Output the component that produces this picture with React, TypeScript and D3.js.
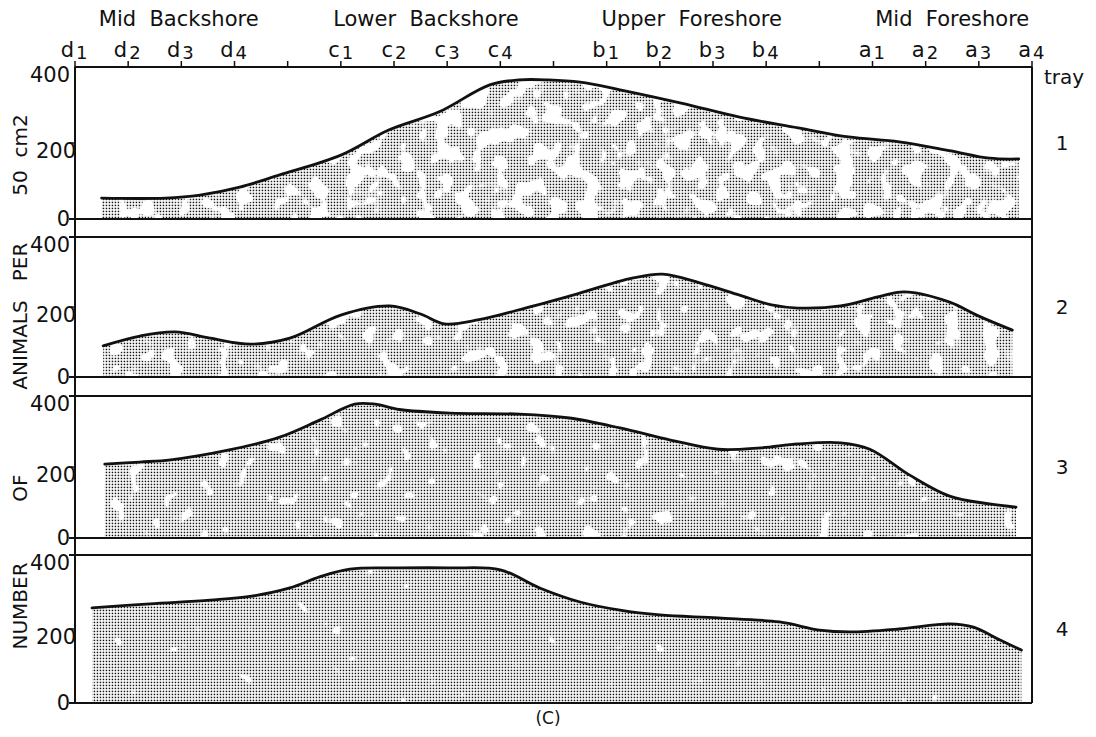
import * as d3 from "d3";
import React from "react";

// station positions along the transect (blank = unlabeled tick)
const stations = ["d1", "d2", "d3", "d4", "", "c1", "c2", "c3", "c4", "", "b1", "b2", "b3", "b4", "", "a1", "a2", "a3", "a4"];
const zones = [
  { name: "Mid Backshore", at: 1.95 },
  { name: "Lower Backshore", at: 6.6 },
  { name: "Upper Foreshore", at: 11.6 },
  { name: "Mid Foreshore", at: 16.5 },
];
const yTicks = [0, 200, 400];
const trayNames = ["1", "2", "3", "4"];

// [station position, animals per 50 cm2]
const tray1 = [
  [0.5, 55], [1.7, 55], [2.35, 63], [3.1, 84], [3.85, 116], [5, 168], [5.9, 234], [6.85, 282],
  [7.8, 353], [8.35, 366], [8.9, 366], [9.5, 360], [10.25, 340], [11.4, 305], [12.5, 268],
  [13.6, 240], [14.55, 216], [15.5, 203], [16.45, 180], [17.2, 160], [17.75, 158],
];
const tray2 = [
  [0.53, 89], [1.22, 117], [1.88, 129], [2.54, 111], [3.3, 94], [4.04, 111], [5, 177],
  [5.92, 203], [6.5, 180], [6.95, 152], [7.6, 164], [8.3, 190], [9.25, 229], [10.5, 283], [11.05, 294],
  [11.75, 269], [12.5, 234], [13.1, 206], [13.6, 197], [14.4, 203], [15.1, 229], [15.6, 243],
  [16.45, 214], [17, 174], [17.63, 134],
];
const tray3 = [
  [0.56, 208], [1.22, 214], [1.8, 220], [2.9, 248], [3.85, 284], [4.6, 332], [5.26, 377],
  [5.64, 377], [6.1, 362], [7.05, 352], [8.36, 349], [9.3, 338], [10.25, 310], [11.2, 276],
  [12.1, 250], [12.9, 254], [13.6, 265], [14.4, 268], [14.95, 250], [15.7, 177], [16.45, 118],
  [17.2, 96], [17.7, 87],
];
const tray4 = [
  [0.32, 257], [1.41, 268], [2.54, 278], [3.29, 288], [4.04, 311], [4.6, 341], [5.17, 362],
  [6.1, 365], [7.05, 365], [8, 360], [8.74, 311], [9.5, 273], [10.25, 251], [11, 238],
  [12.1, 230], [13.25, 219], [14, 197], [14.57, 192], [15.5, 200], [16.45, 214], [16.9, 205],
  [17.4, 170], [17.8, 143],
];
const trays = [tray1, tray2, tray3, tray4];

const W = 1096;
const H = 737;
const font = "DejaVu Sans, sans-serif";
const panelTop = [67, 237, 396, 555];
const panelBottom = [219, 377, 538, 703];
const holeCut = [0.46, 0.4, 0.33, 0.24]; // noise level below which the stipple has gaps

const x = d3.scaleLinear().domain([0, 18]).range([75, 1032]);

export default function App() {
  const left = x(0);
  const right = x(18);
  return (
    <svg width={W} height={H} style={{ position: "fixed", left: 0, top: 0, background: "#fff" }} fontFamily={font}>
      <defs>
        <pattern id="dots" width={3} height={3} patternUnits="userSpaceOnUse">
          <rect x={0.7} y={0.7} width={1.5} height={1.5} fill="#111" />
        </pattern>
        {holeCut.map((c, i) => {
          const k = 14;
          const off = -(c * k - 0.5);
          const row = `${k} 0 0 0 ${off}`;
          return (
            <filter id={`blot${i}`} key={i} x="0" y="0" width="1" height="1">
              <feTurbulence type="fractalNoise" baseFrequency="0.055" numOctaves="2" seed={i + 4} />
              <feColorMatrix type="matrix" values={`${row}  ${row}  ${row}  0 0 0 0 1`} />
            </filter>
          );
        })}
        {holeCut.map((c, i) => (
          <mask id={`m${i}`} key={i} maskUnits="userSpaceOnUse" x={0} y={0} width={W} height={H}>
            <rect x={left} y={panelTop[i]} width={right - left} height={panelBottom[i] - panelTop[i]} fill="#fff" filter={`url(#blot${i})`} />
          </mask>
        ))}
      </defs>

      {/* zone headers */}
      {zones.map((z) => (
        <text key={z.name} x={x(z.at)} y={26} fontSize={21} textAnchor="middle" fill="#111" style={{ whiteSpace: "pre" }}>
          {z.name.replace(" ", "  ")}
        </text>
      ))}

      {/* station ticks and labels */}
      {stations.map((s, i) => (
        <g key={i}>
          <line x1={x(i)} x2={x(i)} y1={panelTop[0]} y2={panelTop[0] - 6} stroke="#111" strokeWidth={1.5} />
          {s && (
            <>
              <text x={x(i) - 1} y={57} fontSize={21} textAnchor="end" fill="#111">{s[0]}</text>
              <text x={x(i) + 1} y={59} fontSize={18} textAnchor="start" fill="#111">{s[1]}</text>
            </>
          )}
        </g>
      ))}

      {trays.map((data, i) => {
        const y = d3.scaleLinear().domain([0, 400]).range([panelBottom[i], panelTop[i]]);
        const curve = d3.curveCatmullRom.alpha(0.5);
        const area = d3.area<number[]>().x((d) => x(d[0])).y0(y(0)).y1((d) => y(d[1])).curve(curve);
        const line = d3.line<number[]>().x((d) => x(d[0])).y((d) => y(d[1])).curve(curve);
        const mid = (panelTop[i] + panelBottom[i]) / 2;
        return (
          <g key={i}>
            <path d={area(data) || ""} fill="url(#dots)" mask={`url(#m${i})`} />
            <path d={line(data) || ""} fill="none" stroke="#111" strokeWidth={2.8} strokeLinecap="round" />
            <line x1={left - 6} x2={right} y1={y(0)} y2={y(0)} stroke="#111" strokeWidth={2} />
            <line x1={i === 0 ? left : left - 6} x2={right} y1={y(400)} y2={y(400)} stroke="#111" strokeWidth={2} />
            <line x1={left - 6} x2={left} y1={y(200)} y2={y(200)} stroke="#111" strokeWidth={1.5} />
            {yTicks.map((t) => (
              <text key={t} x={t === 200 ? left + 1 : left - 5} y={y(t) + (t === 0 ? 0 : 8)} dy="0.35em" fontSize={21} textAnchor="end" fill="#111">
                {t}
              </text>
            ))}
            <text x={1062} y={mid} dy="0.35em" fontSize={20} textAnchor="middle" fill="#111">{trayNames[i]}</text>
          </g>
        );
      })}

      {/* frame sides */}
      <line x1={left} x2={left} y1={panelTop[0]} y2={panelBottom[3]} stroke="#111" strokeWidth={2} />
      <line x1={right} x2={right} y1={panelTop[0]} y2={panelBottom[3]} stroke="#111" strokeWidth={2} />

      <text x={1064} y={77} dy="0.35em" fontSize={20} textAnchor="middle" fill="#111">tray</text>

      {/* y title, hand-spaced words */}
      {[["NUMBER", 606], ["OF", 488], ["ANIMALS", 345], ["PER", 262], ["50  cm2", 155]].map(([w, cy]) => (
        <text key={w as string} transform={`translate(20,${cy}) rotate(-90)`} dy="0.35em" fontSize={20} textAnchor="middle" fill="#111" style={{ whiteSpace: "pre" }}>
          {w}
        </text>
      ))}

      <text x={548} y={718} dy="0.35em" fontSize={17} textAnchor="middle" fill="#111">(C)</text>
    </svg>
  );
}
